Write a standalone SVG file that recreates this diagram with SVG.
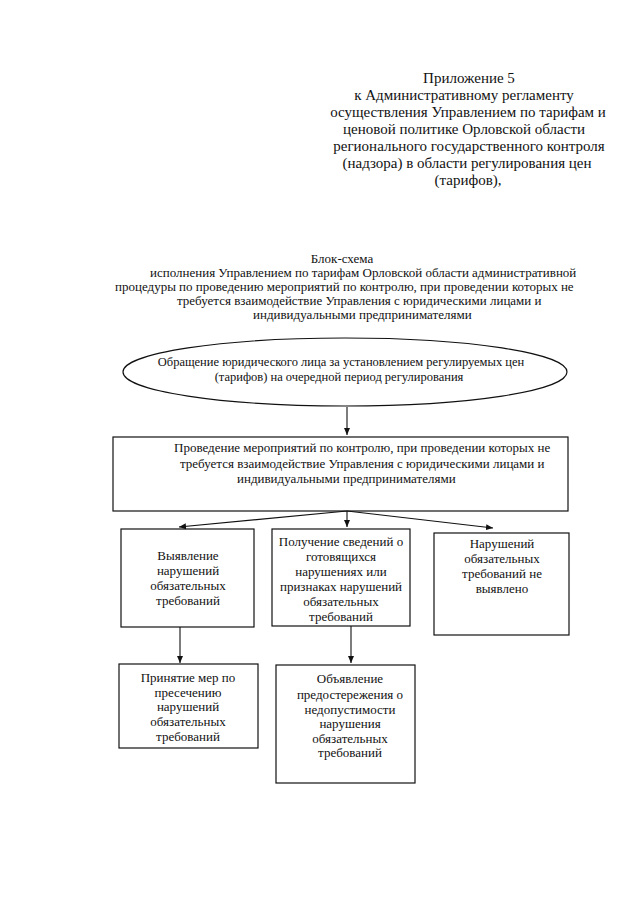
<svg xmlns="http://www.w3.org/2000/svg" width="639" height="905" viewBox="0 0 639 905" font-family="'Liberation Serif', 'Times New Roman', serif">
<defs>
<marker id="ah" markerWidth="8" markerHeight="8" refX="7" refY="4" orient="auto" markerUnits="userSpaceOnUse">
<path d="M0,1 L7,4 L0,7 Z" fill="#111"/>
</marker>
<style>
text{font-family:"Liberation Serif","Times New Roman",serif;fill:#111}
.h{font-size:15px;text-anchor:middle}
.t{font-size:13px}
.c{font-size:13px;text-anchor:middle}
.e{font-size:12.5px;text-anchor:middle}
.box{fill:none;stroke:#111;stroke-width:1.2}
.ln{fill:none;stroke:#111;stroke-width:1.1;marker-end:url(#ah)}
</style>
</defs>
<rect width="639" height="905" fill="#fff"/>
<g id="header">
<text class="h" x="469" y="83">Приложение 5</text>
<text class="h" x="464" y="100">к Административному регламенту</text>
<text class="h" x="468" y="117">осуществления Управлением по тарифам и</text>
<text class="h" x="464" y="134">ценовой политике Орловской области</text>
<text class="h" x="469" y="151">регионального государственного контроля</text>
<text class="h" x="467" y="168">(надзора) в области регулирования цен</text>
<text class="h" x="468" y="185">(тарифов),</text>
</g>
<g id="title">
<text class="c" x="342" y="263">Блок-схема</text>
<text class="t" x="150" y="277">исполнения Управлением по тарифам Орловской области административной</text>
<text class="t" x="115" y="291">процедуры по проведению мероприятий по контролю, при проведении которых не</text>
<text class="t" x="177" y="305">требуется взаимодействие Управления с юридическими лицами и</text>
<text class="t" x="253" y="319">индивидуальными предпринимателями</text>
</g>
<g id="start">
<ellipse class="box" cx="345" cy="372" rx="222" ry="34"/>
<text class="e" x="341" y="366">Обращение юридического лица за установлением регулируемых цен</text>
<text class="e" x="339" y="381">(тарифов) на очередной период регулирования</text>
</g>
<g id="control">
<rect class="box" x="113" y="437" width="455" height="74"/>
<text class="t" x="174" y="452">Проведение мероприятий по контролю, при проведении которых не</text>
<text class="t" x="180" y="468">требуется взаимодействие Управления с юридическими лицами и</text>
<text class="t" x="237" y="483">индивидуальными предпринимателями</text>
</g>
<g id="detect">
<rect class="box" x="121" y="529" width="133" height="98"/>
<text class="c" x="188" y="560">Выявление</text>
<text class="c" x="188" y="575">нарушений</text>
<text class="c" x="188" y="590">обязательных</text>
<text class="c" x="188" y="605">требований</text>
</g>
<g id="info">
<rect class="box" x="272" y="529" width="138" height="97"/>
<text class="c" x="341" y="546">Получение сведений о</text>
<text class="c" x="341" y="561">готовящихся</text>
<text class="c" x="341" y="576">нарушениях или</text>
<text class="c" x="341" y="591">признаках нарушений</text>
<text class="c" x="341" y="606">обязательных</text>
<text class="c" x="341" y="621">требований</text>
</g>
<g id="none">
<rect class="box" x="434" y="533" width="135" height="102"/>
<text class="c" x="502" y="548">Нарушений</text>
<text class="c" x="502" y="563">обязательных</text>
<text class="c" x="502" y="578">требований не</text>
<text class="c" x="502" y="593">выявлено</text>
</g>
<g id="measures">
<rect class="box" x="119" y="664" width="139" height="84"/>
<text class="c" x="188" y="682">Принятие мер по</text>
<text class="c" x="188" y="697">пресечению</text>
<text class="c" x="188" y="711">нарушений</text>
<text class="c" x="188" y="726">обязательных</text>
<text class="c" x="188" y="741">требований</text>
</g>
<g id="warning">
<rect class="box" x="276" y="665" width="139" height="118"/>
<text class="c" x="350" y="683">Объявление</text>
<text class="c" x="350" y="699">предостережения о</text>
<text class="c" x="350" y="714">недопустимости</text>
<text class="c" x="350" y="728">нарушения</text>
<text class="c" x="350" y="743">обязательных</text>
<text class="c" x="350" y="757">требований</text>
</g>
<g id="connectors">
<path class="ln" d="M347,407 V435"/>
<path class="ln" d="M347,511 L179,527"/>
<path class="ln" d="M347,511 V527"/>
<path class="ln" d="M347,511 L493,528"/>
<path class="ln" d="M180,627 V663"/>
<path class="ln" d="M351,626 V663"/>
</g>
</svg>
